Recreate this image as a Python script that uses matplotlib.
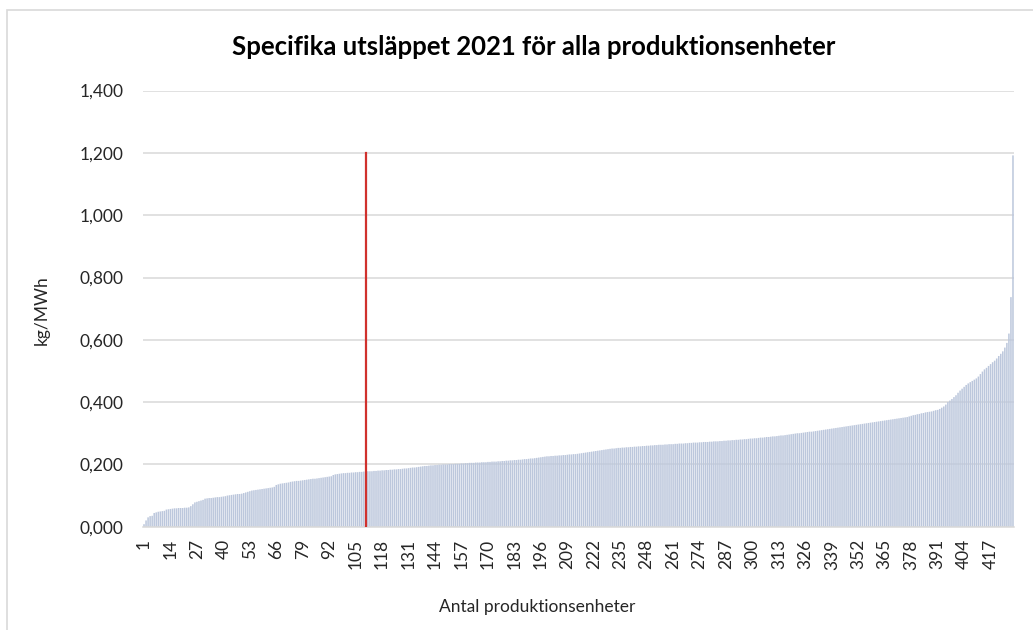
import numpy as np
import matplotlib
matplotlib.use('Agg')
import matplotlib.pyplot as plt
from matplotlib.ticker import FuncFormatter
from matplotlib.patches import Rectangle

plt.rcParams['font.family'] = ['Lato', 'DejaVu Sans']

# Specific emission (kg/MWh) per production unit, sorted ascending
utslapp = [
    0.008, 0.020, 0.030, 0.034, 0.035, 0.044, 0.046, 0.048, 0.049, 0.050,
    0.051, 0.055, 0.056, 0.057, 0.058, 0.059, 0.059, 0.060, 0.060, 0.060,
    0.061, 0.061, 0.062, 0.066, 0.072, 0.078, 0.080, 0.082, 0.084, 0.086,
    0.090, 0.091, 0.092, 0.092, 0.093, 0.094, 0.095, 0.095, 0.096, 0.097,
    0.098, 0.100, 0.101, 0.102, 0.103, 0.104, 0.105, 0.105, 0.106, 0.108,
    0.110, 0.112, 0.114, 0.116, 0.117, 0.118, 0.119, 0.120, 0.121, 0.122,
    0.123, 0.124, 0.125, 0.126, 0.128, 0.134, 0.136, 0.138, 0.139, 0.140,
    0.141, 0.142, 0.144, 0.145, 0.146, 0.147, 0.147, 0.148, 0.149, 0.150,
    0.151, 0.152, 0.153, 0.154, 0.154, 0.155, 0.156, 0.157, 0.158, 0.159,
    0.160, 0.161, 0.162, 0.166, 0.168, 0.169, 0.170, 0.171, 0.172, 0.172,
    0.173, 0.173, 0.174, 0.174, 0.175, 0.175, 0.176, 0.176, 0.177, 0.177,
    0.178, 0.178, 0.178, 0.179, 0.179, 0.180, 0.180, 0.181, 0.181, 0.182,
    0.182, 0.183, 0.183, 0.184, 0.184, 0.185, 0.185, 0.186, 0.187, 0.187,
    0.188, 0.189, 0.190, 0.190, 0.191, 0.192, 0.193, 0.194, 0.195, 0.195,
    0.196, 0.197, 0.197, 0.198, 0.198, 0.199, 0.199, 0.200, 0.200, 0.200,
    0.201, 0.201, 0.201, 0.202, 0.202, 0.202, 0.203, 0.203, 0.204, 0.204,
    0.205, 0.205, 0.205, 0.206, 0.206, 0.206, 0.207, 0.207, 0.207, 0.208,
    0.208, 0.209, 0.209, 0.209, 0.210, 0.210, 0.211, 0.211, 0.212, 0.212,
    0.213, 0.213, 0.214, 0.214, 0.215, 0.215, 0.216, 0.217, 0.217, 0.218,
    0.219, 0.219, 0.220, 0.221, 0.222, 0.223, 0.224, 0.225, 0.226, 0.226,
    0.227, 0.227, 0.228, 0.228, 0.229, 0.229, 0.230, 0.230, 0.231, 0.232,
    0.232, 0.233, 0.233, 0.234, 0.235, 0.236, 0.237, 0.238, 0.239, 0.240,
    0.241, 0.242, 0.243, 0.244, 0.245, 0.246, 0.247, 0.248, 0.249, 0.250,
    0.251, 0.251, 0.252, 0.253, 0.253, 0.254, 0.254, 0.255, 0.255, 0.256,
    0.256, 0.257, 0.257, 0.258, 0.258, 0.259, 0.259, 0.260, 0.260, 0.261,
    0.261, 0.262, 0.262, 0.263, 0.263, 0.263, 0.264, 0.264, 0.265, 0.265,
    0.265, 0.266, 0.266, 0.267, 0.267, 0.267, 0.268, 0.268, 0.269, 0.269,
    0.270, 0.270, 0.270, 0.271, 0.271, 0.272, 0.272, 0.272, 0.273, 0.273,
    0.274, 0.274, 0.274, 0.275, 0.275, 0.276, 0.276, 0.277, 0.277, 0.278,
    0.278, 0.279, 0.279, 0.280, 0.280, 0.281, 0.281, 0.282, 0.283, 0.283,
    0.284, 0.284, 0.285, 0.286, 0.286, 0.287, 0.288, 0.288, 0.289, 0.290,
    0.290, 0.291, 0.292, 0.293, 0.293, 0.294, 0.295, 0.296, 0.297, 0.298,
    0.299, 0.300, 0.300, 0.301, 0.302, 0.303, 0.304, 0.305, 0.305, 0.306,
    0.307, 0.308, 0.309, 0.310, 0.311, 0.312, 0.313, 0.314, 0.315, 0.316,
    0.317, 0.318, 0.319, 0.320, 0.321, 0.322, 0.323, 0.324, 0.325, 0.326,
    0.327, 0.328, 0.329, 0.330, 0.331, 0.332, 0.333, 0.334, 0.335, 0.336,
    0.337, 0.338, 0.339, 0.340, 0.341, 0.342, 0.343, 0.344, 0.345, 0.346,
    0.347, 0.348, 0.349, 0.350, 0.351, 0.352, 0.354, 0.356, 0.358, 0.359,
    0.361, 0.362, 0.364, 0.365, 0.367, 0.368, 0.369, 0.370, 0.372, 0.374,
    0.375, 0.378, 0.382, 0.386, 0.392, 0.400, 0.405, 0.410, 0.416, 0.422,
    0.430, 0.437, 0.443, 0.449, 0.455, 0.460, 0.464, 0.468, 0.472, 0.476,
    0.482, 0.490, 0.498, 0.505, 0.510, 0.516, 0.522, 0.528, 0.533, 0.540,
    0.548, 0.555, 0.563, 0.575, 0.590, 0.620, 0.737, 1.192,
]
enheter = np.arange(1, len(utslapp) + 1)

# red marker line
markering_x = [110, 110]
markering_y = [0.0, 1.2]

xtick_labels = list(range(1, 418, 13))
ytick_values = [0, 0.2, 0.4, 0.6, 0.8, 1.0, 1.2, 1.4]

fig = plt.figure(figsize=(10.33, 6.3), dpi=100)
fig.patches.append(Rectangle((7 / 1033, -0.1), 1.2, 1.1 - 10 / 630, transform=fig.transFigure,
                             fill=False, edgecolor='#d9d9d9', linewidth=1.2))

ax = fig.add_axes([143 / 1033, 1 - 526.7 / 630, 871 / 1033, 436.1 / 630])
ax.bar(enheter, utslapp, width=0.75, color='#bcc7dc', linewidth=0, snap=False, zorder=2)
ax.plot(markering_x, markering_y, color='#d0312d', linewidth=1.6, zorder=3)

ax.set_xlim(0.5, len(utslapp) + 0.5)
ax.set_ylim(0, 1.4)
ax.set_yticks(ytick_values)
ax.yaxis.set_major_formatter(FuncFormatter(lambda v, p: f'{v:.3f}'.replace('.', ',')))
ax.set_xticks(xtick_labels)
ax.set_xticklabels([str(v) for v in xtick_labels], rotation=90)

ax.grid(axis='y', color='#d9d9d9', linewidth=1.1, zorder=0)
ax.set_axisbelow(True)
for s in ['top', 'right', 'left']:
    ax.spines[s].set_visible(False)
ax.spines['bottom'].set_color('#d9d9d9')
ax.spines['bottom'].set_linewidth(1.1)
ax.tick_params(axis='both', length=0, labelsize=12.5, colors='#262626')
ax.tick_params(axis='y', pad=14)
ax.tick_params(axis='x', pad=9)

fig.text(534 / 1033, 1 - 47 / 630, 'Specifika utsläppet 2021 för alla produktionsenheter',
         ha='center', va='center', fontsize=18.5, fontweight='bold', color='#000000')
fig.text(42 / 1033, 1 - 310 / 630, 'kg/MWh', rotation=90, ha='center', va='center',
         fontsize=12.5, color='#262626')
fig.text(537 / 1033, 1 - 607 / 630, 'Antal produktionsenheter', ha='center', va='center',
         fontsize=12.5, color='#262626')

fig.savefig('out.png', dpi=100)
